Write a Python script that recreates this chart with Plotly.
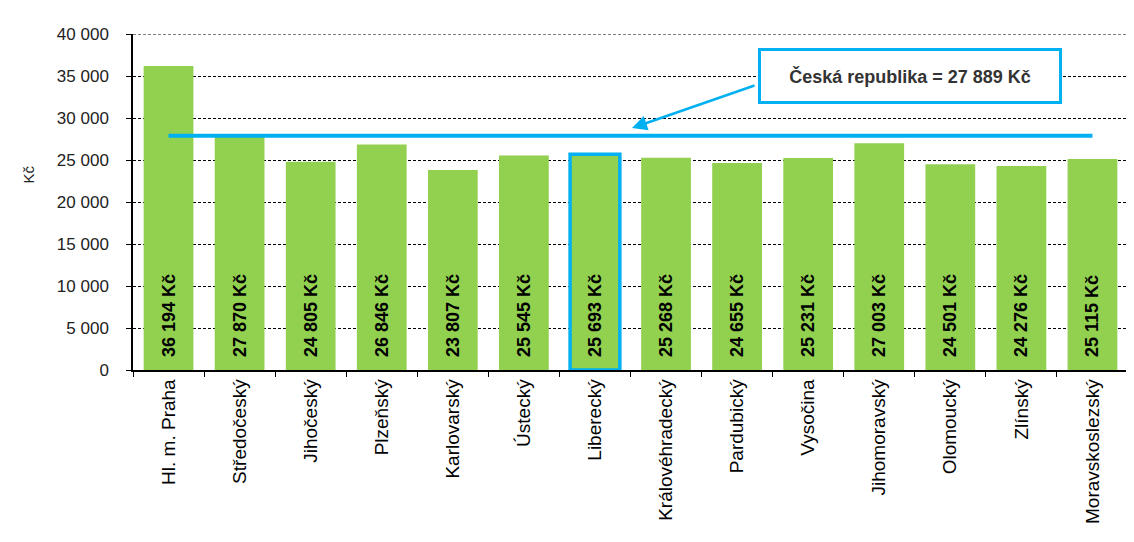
import plotly.graph_objects as go

regions = ["Hl. m. Praha", "Středočeský", "Jihočeský", "Plzeňský", "Karlovarský",
           "Ústecký", "Liberecký", "Královéhradecký", "Pardubický", "Vysočina",
           "Jihomoravský", "Olomoucký", "Zlínský", "Moravskoslezský"]
wages = [36194, 27870, 24805, 26846, 23807, 25545, 25693, 25268, 24655, 25231,
         27003, 24501, 24276, 25115]
cr_value = 27889
highlight = "Liberecký"
y_ticks = [0, 5000, 10000, 15000, 20000, 25000, 30000, 35000, 40000]

def fmt(v):
    return f"{v:,}".replace(",", " ")

FONT = "Liberation Sans, Arial, sans-serif"
bar_text = [f"\u00a0\u00a0<b>{fmt(v)} Kč</b>" for v in wages]
line_w = [3.5 if r == highlight else 0 for r in regions]
line_c = ["#00B0F0" if r == highlight else "#92D050" for r in regions]

fig = go.Figure()
fig.add_trace(go.Bar(
    x=regions, y=wages, text=bar_text,
    textposition="inside", insidetextanchor="start", textangle=-90,
    textfont=dict(family=FONT, size=18, color="black"),
    constraintext="none",
    marker=dict(color="#92D050", line=dict(width=line_w, color=line_c)),
    hoverinfo="skip", showlegend=False,
))
fig.add_trace(go.Scatter(
    x=[regions[0], regions[-1]], y=[cr_value, cr_value], mode="lines",
    line=dict(color="#00B0F0", width=4), showlegend=False, hoverinfo="skip",
))

# page body has an 8px margin: work in window pixels, offset by 8
OFF = 8
PX0, PW, PY1, PH = 133, 995, 370, 336

def dx(px):
    return (px - PX0) / PW

def dy(py):
    return (PY1 - py) / PH

# text box
fig.add_annotation(
    x=dx(910), y=dy(75.5), xref="x domain", yref="y domain",
    text=f"<b>Česká republika = {fmt(cr_value)} Kč</b>", showarrow=False,
    font=dict(family=FONT, size=18, color="#333333"),
    bordercolor="#00B0F0", borderwidth=3, bgcolor="white",
    width=296, height=48, xanchor="center", yanchor="middle",
)
# arrow
fig.add_annotation(
    x=dx(632), y=dy(128), xref="x domain", yref="y domain",
    ax=dx(756), ay=dy(85), axref="x domain", ayref="y domain",
    text="", showarrow=True, arrowhead=2, arrowsize=1.2, arrowwidth=2.5,
    arrowcolor="#00B0F0",
)
# y axis title
fig.add_annotation(
    x=dx(18), y=dy(175), xref="x domain", yref="y domain",
    text="Kč", showarrow=False, textangle=-90,
    font=dict(family=FONT, size=15, color="#222222"),
)
# top gridline
fig.add_shape(
    type="line", xref="x domain", yref="y", x0=0, x1=1,
    y0=y_ticks[-1], y1=y_ticks[-1],
    line=dict(color="black", width=1, dash="3px,2px"), layer="below",
)

W, H = 1134 - OFF, 542 - OFF
fig.update_layout(
    width=W, height=H,
    margin=dict(l=PX0 - OFF, r=W - (PX0 + PW - OFF), t=(PY1 - PH) - OFF,
                b=H - (PY1 - OFF)),
    paper_bgcolor="white", plot_bgcolor="white",
    bargap=0.3,
    font=dict(family=FONT, size=17, color="#222222"),
    xaxis=dict(
        tickangle=-90, showline=True, linecolor="black", linewidth=1.5,
        ticks="outside", ticklen=5, tickcolor="black", tickson="boundaries",
        showgrid=False, tickfont=dict(size=19, color="black"),
        automargin=False,
    ),
    yaxis=dict(
        range=[0, 40000], tickvals=y_ticks, ticktext=[fmt(v) for v in y_ticks],
        showline=True, linecolor="black", linewidth=1.5,
        ticks="outside", ticklen=5, tickcolor="black",
        showgrid=True, gridcolor="black", griddash="3px,2px", gridwidth=1,
        zeroline=False, tickfont=dict(size=17, color="#222222"),
        ticklabelstandoff=14, automargin=False,
    ),
)

fig.write_html("out.html")
